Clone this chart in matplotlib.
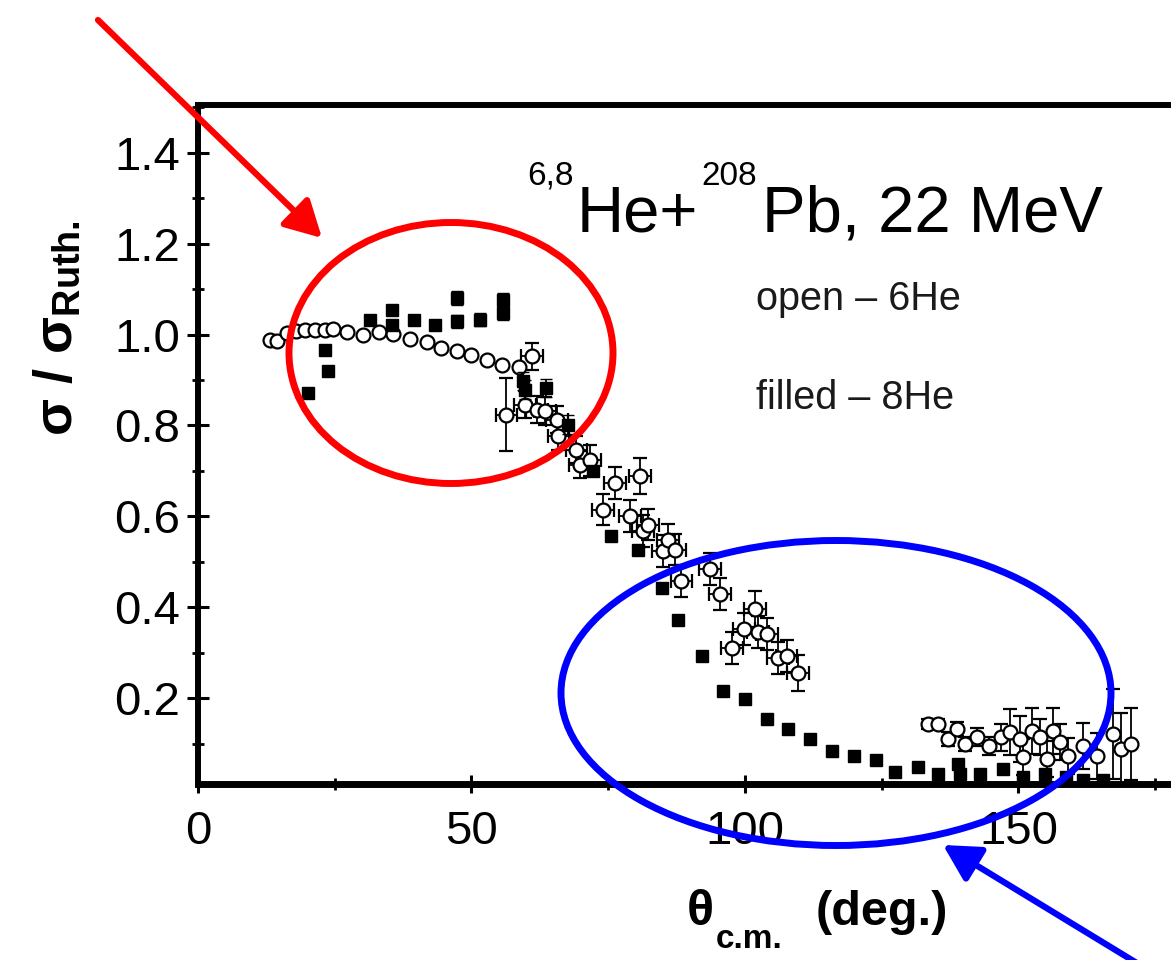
import matplotlib.pyplot as plt
from matplotlib import font_manager
from matplotlib.patches import Ellipse
from matplotlib.ticker import MultipleLocator

# 6He (open symbols), forward angles
he6_th_fwd = [13.2, 14.5, 16.2, 18.0, 19.6, 21.4, 23.2, 24.7, 27.2, 30.2,
              33.0, 35.7, 38.8, 41.8, 44.5, 47.3, 50.0, 52.8, 55.5, 58.6]
he6_r_fwd = [0.989, 0.985, 1.004, 1.007, 1.009, 1.011, 1.011, 1.012, 1.005, 0.998,
             1.005, 1.002, 0.990, 0.983, 0.971, 0.963, 0.956, 0.945, 0.934, 0.929]

# 6He, fall-off region (error bars in both directions)
he6_th_mid = [61.0, 56.4, 59.8, 61.9, 63.4, 65.6, 65.9, 69.2, 69.8, 71.7,
              74.1, 76.2, 79.0, 80.8, 81.4, 82.3, 85.0, 86.0, 87.2, 88.4,
              93.6, 95.4, 97.6, 99.9, 101.8, 102.4, 104.0, 106.1, 107.6, 109.7]
he6_r_mid = [0.952, 0.824, 0.846, 0.835, 0.832, 0.813, 0.776, 0.747, 0.714, 0.723,
             0.615, 0.674, 0.601, 0.689, 0.568, 0.582, 0.524, 0.549, 0.527, 0.458,
             0.484, 0.429, 0.311, 0.352, 0.396, 0.345, 0.341, 0.289, 0.293, 0.256]
he6_dr_mid = [0.03, 0.08, 0.03, 0.03, 0.03, 0.03, 0.03, 0.03, 0.03, 0.035,
              0.035, 0.035, 0.035, 0.04, 0.035, 0.035, 0.035, 0.035, 0.035, 0.035,
              0.035, 0.035, 0.035, 0.035, 0.04, 0.035, 0.035, 0.035, 0.035, 0.04]
he6_dth_mid = [2.0] * len(he6_th_mid)

# 6He backward angles
he6_th_bwd = [133.5, 135.3, 137.2, 138.7, 140.3, 142.4, 144.6, 146.8, 148.4, 150.2,
              150.9, 152.4, 154.0, 155.2, 156.4, 157.6, 159.0, 161.9, 164.3, 167.3,
              168.8, 170.6]
he6_r_bwd = [0.143, 0.143, 0.110, 0.132, 0.099, 0.114, 0.095, 0.114, 0.125, 0.110,
             0.070, 0.128, 0.114, 0.066, 0.128, 0.103, 0.073, 0.095, 0.073, 0.121,
             0.088, 0.099]
he6_dr_bwd = [0.01, 0.01, 0.015, 0.015, 0.015, 0.02, 0.02, 0.03, 0.05, 0.05,
              0.04, 0.05, 0.04, 0.04, 0.05, 0.04, 0.04, 0.05, 0.05, 0.10,
              0.08, 0.08]

# 8He (filled symbols)
he8_th = [20.2, 23.2, 23.8, 31.4, 35.4, 35.4, 39.4, 43.3, 47.3, 47.3,
          51.6, 55.8, 55.8, 59.5, 59.7, 63.7, 67.7, 72.3, 75.6, 80.5,
          84.8, 87.8, 92.1, 96.0, 100.0, 104.0, 107.9, 111.9, 115.9, 119.9,
          124.0, 127.4, 131.7, 135.3, 139.0, 139.3, 143.0, 147.2, 150.9, 154.8,
          158.7, 161.8, 165.5]
he8_r = [0.872, 0.967, 0.919, 1.033, 1.055, 1.022, 1.033, 1.022, 1.081, 1.029,
         1.033, 1.077, 1.048, 0.897, 0.879, 0.882, 0.802, 0.700, 0.557, 0.527,
         0.443, 0.372, 0.293, 0.216, 0.198, 0.154, 0.132, 0.110, 0.084, 0.073,
         0.064, 0.037, 0.048, 0.033, 0.055, 0.033, 0.033, 0.044, 0.026, 0.033,
         0.026, 0.020, 0.020]
he8_dr = [0.01] * 8 + [0.015] * 5 + [0.02] * 4 + [0.01] * 26

xticks = [0, 50, 100, 150]
yticks = [0.2, 0.4, 0.6, 0.8, 1.0, 1.2, 1.4]

names = {f.name for f in font_manager.fontManager.ttflist}
narrow = 'Liberation Sans Narrow' in names
title_font = 'Liberation Sans Narrow' if narrow else 'Liberation Sans'
title_size = 56 if narrow else 47
sup_size = 28 if narrow else 24

plt.rcParams['font.family'] = ['Liberation Sans', 'DejaVu Sans']
plt.rcParams['mathtext.fontset'] = 'custom'
plt.rcParams['mathtext.rm'] = 'Liberation Sans'
plt.rcParams['mathtext.it'] = 'Liberation Sans:italic'
plt.rcParams['mathtext.bf'] = 'Liberation Sans:bold'

fig = plt.figure(figsize=(11.71, 9.6), dpi=100)
ax = fig.add_axes([0.1691, 0.1833, 0.8309, 0.7073])

ax.errorbar(he6_th_fwd, he6_r_fwd, fmt='o', ms=10, mfc='white', mec='k',
            mew=1.6, zorder=3)
ax.errorbar(he6_th_mid, he6_r_mid, yerr=he6_dr_mid, xerr=he6_dth_mid, fmt='o',
            ms=10, mfc='white', mec='k', mew=1.6, ecolor='k', elinewidth=1.3,
            capsize=5, capthick=1.3, zorder=3)
ax.errorbar(he6_th_bwd, he6_r_bwd, yerr=he6_dr_bwd, fmt='o', ms=10, mfc='white',
            mec='k', mew=1.6, ecolor='k', elinewidth=1.3, capsize=5,
            capthick=1.3, zorder=3)
ax.errorbar(he8_th, he8_r, yerr=he8_dr, fmt='s', ms=9, color='k', ecolor='k',
            elinewidth=1.3, capsize=4, zorder=4)

ax.set_xlim(0, 177.9)
ax.set_ylim(0.011, 1.505)
ax.set_xticks(xticks)
ax.set_yticks(yticks)
ax.set_yticklabels([f'{v:.1f}' for v in yticks])
ax.xaxis.set_minor_locator(MultipleLocator(25))
ax.yaxis.set_minor_locator(MultipleLocator(0.1))
ax.tick_params(which='major', direction='inout', length=16, width=2.2,
               labelsize=34, pad=5)
ax.tick_params(which='minor', direction='inout', length=8, width=2.0)
ax.tick_params(axis='x', which='major', length=13, pad=12)

for side in ['left', 'top']:
    ax.spines[side].set_linewidth(4.3)
ax.spines['bottom'].set_linewidth(5)
ax.spines['right'].set_visible(False)

# x label built from pieces so the subscript keeps its tight "c.m."
t_theta = ax.text(0.5026, -0.207, 'θ', transform=ax.transAxes, fontsize=36,
                  fontweight='bold', va='baseline')
t_cm = ax.annotate('c.m.', xy=(1, 0), xycoords=t_theta, xytext=(1, -10),
                   textcoords='offset points', ha='left', va='baseline',
                   fontsize=24, fontweight='bold')
ax.annotate('(deg.)', xy=(1, 0), xycoords=(t_cm, t_theta), xytext=(24, 0),
            textcoords='offset points', ha='left', va='bottom',
            fontsize=35, fontweight='bold')

ax.set_ylabel('σ / σ$_{\\mathbf{Ruth.}}$', fontsize=39, fontweight='bold')
ax.yaxis.set_label_coords(-0.119, 0.672)

# reaction label
t_he = ax.text(0.3895, 0.813, 'He+', transform=ax.transAxes, fontsize=title_size,
               family=title_font, va='baseline')
ax.annotate('6,8', xy=(0, 1), xycoords=t_he, xytext=(-2, 0),
            textcoords='offset points', ha='right', va='baseline',
            fontsize=sup_size, family=title_font)
t_208 = ax.annotate('208', xy=(1, 1), xycoords=t_he, xytext=(2, 0),
                    textcoords='offset points', ha='left', va='baseline',
                    fontsize=sup_size, family=title_font)
ax.annotate('Pb, 22 MeV', xy=(1, 0), xycoords=(t_208, t_he), xytext=(4, 0),
            textcoords='offset points', ha='left', va='bottom',
            fontsize=title_size, family=title_font)

ax.text(0.573, 0.715, 'open – 6He', transform=ax.transAxes, fontsize=28.5,
        va='center', color='#1a1a1a')
ax.text(0.573, 0.568, 'filled – 8He', transform=ax.transAxes, fontsize=28.5,
        va='center', color='#1a1a1a')

# hand-drawn highlights on top
ov = fig.add_axes([0, 0, 1, 1], facecolor='none')
ov.set_xlim(0, 1171)
ov.set_ylim(960, 0)
ov.axis('off')
ov.add_patch(Ellipse((451, 353), 324, 261, fill=False, ec='#ff0000', lw=5))
ov.add_patch(Ellipse((836, 693), 550, 305, fill=False, ec='#0000ff', lw=5))
ov.annotate('', xy=(322, 238), xytext=(98, 20),
            arrowprops=dict(arrowstyle='-|>,head_length=0.55,head_width=0.3',
                            color='#ff0000', lw=4.5, mutation_scale=40,
                            shrinkA=0, shrinkB=0), annotation_clip=False)
ov.annotate('', xy=(943, 845), xytext=(1145, 968),
            arrowprops=dict(arrowstyle='-|>,head_length=0.55,head_width=0.3',
                            color='#0000ff', lw=4.5, mutation_scale=40,
                            shrinkA=0, shrinkB=0), annotation_clip=False)

fig.savefig('out.png', dpi=100)
